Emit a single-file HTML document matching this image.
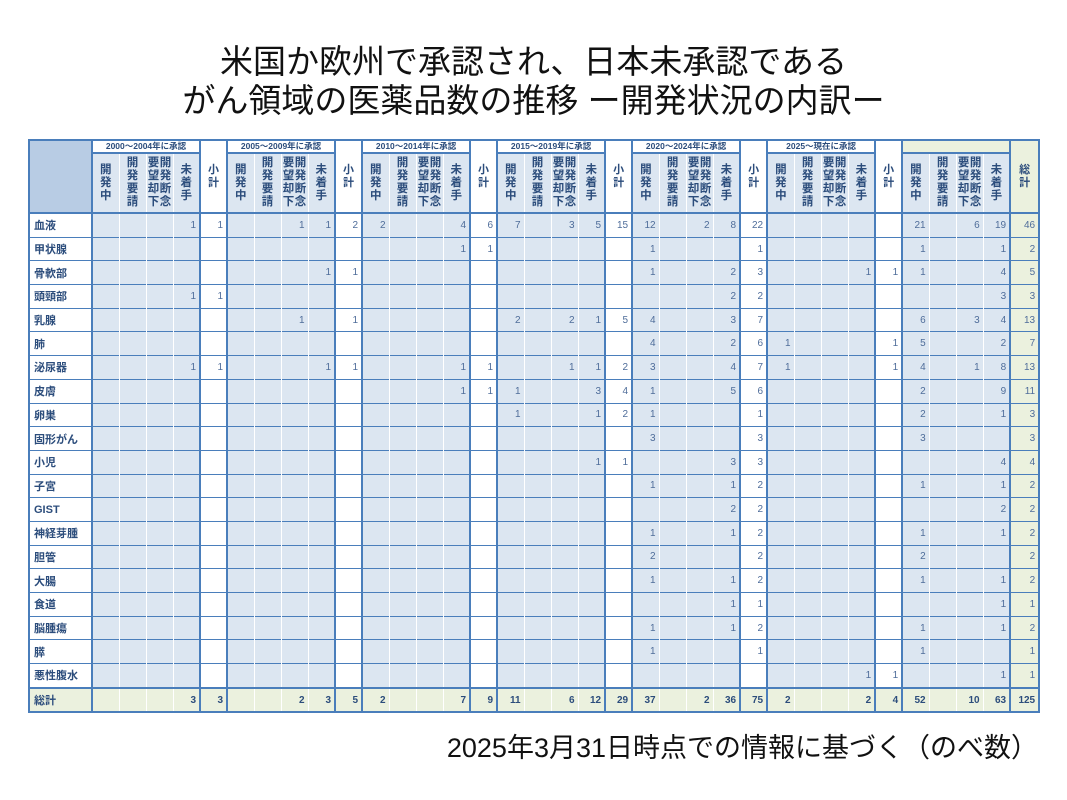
<!DOCTYPE html>
<html><head><meta charset="utf-8">
<style>
body{margin:0;width:1067px;height:800px;background:#fff;position:relative;overflow:hidden;font-family:"Liberation Sans","Noto Sans CJK JP",sans-serif;}
.title{position:absolute;left:0;width:1067px;text-align:center;font-size:33px;color:#111;line-height:38px;font-family:"Liberation Sans","Noto Sans CJK JP",sans-serif;}
.foot{position:absolute;right:29px;top:726px;font-size:27px;color:#111;font-family:"Liberation Sans","Noto Sans CJK JP",sans-serif;}
table{position:absolute;left:28px;top:139px;width:1010px;border-collapse:collapse;table-layout:fixed;border:2px solid #4a7ebb;}
td,th{padding:0;overflow:hidden;white-space:nowrap;}
thead th{font-weight:bold;color:#2c4d7c;}
.g1{height:11px;font-size:8.5px;background:#fff;border-left:2px solid #4a7ebb;border-bottom:2px solid #4a7ebb;line-height:11px;}
.tl{background:#b8cce4;border-right:2px solid #4a7ebb;border-bottom:2px solid #4a7ebb;}
.sub{background:#fff;border-left:2px solid #4a7ebb;border-bottom:2px solid #4a7ebb;font-size:11px;line-height:13px;}
.tg{background:#ebf1de;border-left:2px solid #4a7ebb;border-bottom:2px solid #4a7ebb;}
.gg{background:#ebf1de;border-left:2px solid #4a7ebb;border-bottom:2px solid #4a7ebb;font-size:11px;line-height:13px;}
.h{height:58px;background:#dce6f1;border-left:1.5px solid #fff;border-bottom:2px solid #4a7ebb;font-size:11.5px;line-height:13px;vertical-align:middle;}
.h.f{border-left:2px solid #4a7ebb;}
.h span{display:inline-block;vertical-align:top;width:12px;}
tbody td{height:22.7px;border-top:1.5px solid #4a7ebb;background:#dce6f1;border-left:1.5px solid #fff;text-align:right;padding-right:3px;font-size:10px;color:#4f6d9a;}
tbody td:nth-child(5n+2){border-left:2px solid #4a7ebb;}
tbody td:nth-child(5n+1){border-left:2px solid #4a7ebb;background:#fff;}
tbody td:nth-child(36){background:#ebf1de;}
tbody th{border-top:1.5px solid #4a7ebb;text-align:left;padding-left:4px;font-size:11px;color:#2c4d7c;font-weight:bold;background:#fff;}
tr.tot td,tr.tot th{background:#ebf1de !important;font-weight:bold;border-top:2px solid #4a7ebb;color:#2c4d7c;}
</style></head><body>
<div class="title" style="top:43px">米国か欧州で承認され、日本未承認である</div>
<div class="title" style="top:82px">がん領域の医薬品数の推移 ー開発状況の内訳ー</div>
<table>
<colgroup><col style="width:63px">
<col style="width:27px"><col style="width:27px"><col style="width:27px"><col style="width:27px"><col style="width:27px">
<col style="width:27px"><col style="width:27px"><col style="width:27px"><col style="width:27px"><col style="width:27px">
<col style="width:27px"><col style="width:27px"><col style="width:27px"><col style="width:27px"><col style="width:27px">
<col style="width:27px"><col style="width:27px"><col style="width:27px"><col style="width:27px"><col style="width:27px">
<col style="width:27px"><col style="width:27px"><col style="width:27px"><col style="width:27px"><col style="width:27px">
<col style="width:27px"><col style="width:27px"><col style="width:27px"><col style="width:27px"><col style="width:27px">
<col style="width:27px"><col style="width:27px"><col style="width:27px"><col style="width:27px"><col style="width:29px"></colgroup>
<thead>
<tr><th class="tl" rowspan="2"></th>
<th class="g1" colspan="4">2000～2004年に承認</th><th class="sub" rowspan="2">小<br>計</th>
<th class="g1" colspan="4">2005～2009年に承認</th><th class="sub" rowspan="2">小<br>計</th>
<th class="g1" colspan="4">2010～2014年に承認</th><th class="sub" rowspan="2">小<br>計</th>
<th class="g1" colspan="4">2015～2019年に承認</th><th class="sub" rowspan="2">小<br>計</th>
<th class="g1" colspan="4">2020～2024年に承認</th><th class="sub" rowspan="2">小<br>計</th>
<th class="g1" colspan="4">2025～現在に承認</th><th class="sub" rowspan="2">小<br>計</th>
<th class="tg" colspan="4"></th><th class="gg" rowspan="2">総<br>計</th></tr>
<tr>
<th class="h f">開<br>発<br>中</th><th class="h">開<br>発<br>要<br>請</th><th class="h"><span>要<br>望<br>却<br>下</span><span>開<br>発<br>断<br>念</span></th><th class="h">未<br>着<br>手</th>
<th class="h f">開<br>発<br>中</th><th class="h">開<br>発<br>要<br>請</th><th class="h"><span>要<br>望<br>却<br>下</span><span>開<br>発<br>断<br>念</span></th><th class="h">未<br>着<br>手</th>
<th class="h f">開<br>発<br>中</th><th class="h">開<br>発<br>要<br>請</th><th class="h"><span>要<br>望<br>却<br>下</span><span>開<br>発<br>断<br>念</span></th><th class="h">未<br>着<br>手</th>
<th class="h f">開<br>発<br>中</th><th class="h">開<br>発<br>要<br>請</th><th class="h"><span>要<br>望<br>却<br>下</span><span>開<br>発<br>断<br>念</span></th><th class="h">未<br>着<br>手</th>
<th class="h f">開<br>発<br>中</th><th class="h">開<br>発<br>要<br>請</th><th class="h"><span>要<br>望<br>却<br>下</span><span>開<br>発<br>断<br>念</span></th><th class="h">未<br>着<br>手</th>
<th class="h f">開<br>発<br>中</th><th class="h">開<br>発<br>要<br>請</th><th class="h"><span>要<br>望<br>却<br>下</span><span>開<br>発<br>断<br>念</span></th><th class="h">未<br>着<br>手</th>
<th class="h f">開<br>発<br>中</th><th class="h">開<br>発<br>要<br>請</th><th class="h"><span>要<br>望<br>却<br>下</span><span>開<br>発<br>断<br>念</span></th><th class="h">未<br>着<br>手</th>
</tr></thead>
<tbody>
<tr><th>血液</th><td></td><td></td><td></td><td>1</td><td>1</td><td></td><td></td><td>1</td><td>1</td><td>2</td><td>2</td><td></td><td></td><td>4</td><td>6</td><td>7</td><td></td><td>3</td><td>5</td><td>15</td><td>12</td><td></td><td>2</td><td>8</td><td>22</td><td></td><td></td><td></td><td></td><td></td><td>21</td><td></td><td>6</td><td>19</td><td>46</td></tr>
<tr><th>甲状腺</th><td></td><td></td><td></td><td></td><td></td><td></td><td></td><td></td><td></td><td></td><td></td><td></td><td></td><td>1</td><td>1</td><td></td><td></td><td></td><td></td><td></td><td>1</td><td></td><td></td><td></td><td>1</td><td></td><td></td><td></td><td></td><td></td><td>1</td><td></td><td></td><td>1</td><td>2</td></tr>
<tr><th>骨軟部</th><td></td><td></td><td></td><td></td><td></td><td></td><td></td><td></td><td>1</td><td>1</td><td></td><td></td><td></td><td></td><td></td><td></td><td></td><td></td><td></td><td></td><td>1</td><td></td><td></td><td>2</td><td>3</td><td></td><td></td><td></td><td>1</td><td>1</td><td>1</td><td></td><td></td><td>4</td><td>5</td></tr>
<tr><th>頭頸部</th><td></td><td></td><td></td><td>1</td><td>1</td><td></td><td></td><td></td><td></td><td></td><td></td><td></td><td></td><td></td><td></td><td></td><td></td><td></td><td></td><td></td><td></td><td></td><td></td><td>2</td><td>2</td><td></td><td></td><td></td><td></td><td></td><td></td><td></td><td></td><td>3</td><td>3</td></tr>
<tr><th>乳腺</th><td></td><td></td><td></td><td></td><td></td><td></td><td></td><td>1</td><td></td><td>1</td><td></td><td></td><td></td><td></td><td></td><td>2</td><td></td><td>2</td><td>1</td><td>5</td><td>4</td><td></td><td></td><td>3</td><td>7</td><td></td><td></td><td></td><td></td><td></td><td>6</td><td></td><td>3</td><td>4</td><td>13</td></tr>
<tr><th>肺</th><td></td><td></td><td></td><td></td><td></td><td></td><td></td><td></td><td></td><td></td><td></td><td></td><td></td><td></td><td></td><td></td><td></td><td></td><td></td><td></td><td>4</td><td></td><td></td><td>2</td><td>6</td><td>1</td><td></td><td></td><td></td><td>1</td><td>5</td><td></td><td></td><td>2</td><td>7</td></tr>
<tr><th>泌尿器</th><td></td><td></td><td></td><td>1</td><td>1</td><td></td><td></td><td></td><td>1</td><td>1</td><td></td><td></td><td></td><td>1</td><td>1</td><td></td><td></td><td>1</td><td>1</td><td>2</td><td>3</td><td></td><td></td><td>4</td><td>7</td><td>1</td><td></td><td></td><td></td><td>1</td><td>4</td><td></td><td>1</td><td>8</td><td>13</td></tr>
<tr><th>皮膚</th><td></td><td></td><td></td><td></td><td></td><td></td><td></td><td></td><td></td><td></td><td></td><td></td><td></td><td>1</td><td>1</td><td>1</td><td></td><td></td><td>3</td><td>4</td><td>1</td><td></td><td></td><td>5</td><td>6</td><td></td><td></td><td></td><td></td><td></td><td>2</td><td></td><td></td><td>9</td><td>11</td></tr>
<tr><th>卵巣</th><td></td><td></td><td></td><td></td><td></td><td></td><td></td><td></td><td></td><td></td><td></td><td></td><td></td><td></td><td></td><td>1</td><td></td><td></td><td>1</td><td>2</td><td>1</td><td></td><td></td><td></td><td>1</td><td></td><td></td><td></td><td></td><td></td><td>2</td><td></td><td></td><td>1</td><td>3</td></tr>
<tr><th>固形がん</th><td></td><td></td><td></td><td></td><td></td><td></td><td></td><td></td><td></td><td></td><td></td><td></td><td></td><td></td><td></td><td></td><td></td><td></td><td></td><td></td><td>3</td><td></td><td></td><td></td><td>3</td><td></td><td></td><td></td><td></td><td></td><td>3</td><td></td><td></td><td></td><td>3</td></tr>
<tr><th>小児</th><td></td><td></td><td></td><td></td><td></td><td></td><td></td><td></td><td></td><td></td><td></td><td></td><td></td><td></td><td></td><td></td><td></td><td></td><td>1</td><td>1</td><td></td><td></td><td></td><td>3</td><td>3</td><td></td><td></td><td></td><td></td><td></td><td></td><td></td><td></td><td>4</td><td>4</td></tr>
<tr><th>子宮</th><td></td><td></td><td></td><td></td><td></td><td></td><td></td><td></td><td></td><td></td><td></td><td></td><td></td><td></td><td></td><td></td><td></td><td></td><td></td><td></td><td>1</td><td></td><td></td><td>1</td><td>2</td><td></td><td></td><td></td><td></td><td></td><td>1</td><td></td><td></td><td>1</td><td>2</td></tr>
<tr><th>GIST</th><td></td><td></td><td></td><td></td><td></td><td></td><td></td><td></td><td></td><td></td><td></td><td></td><td></td><td></td><td></td><td></td><td></td><td></td><td></td><td></td><td></td><td></td><td></td><td>2</td><td>2</td><td></td><td></td><td></td><td></td><td></td><td></td><td></td><td></td><td>2</td><td>2</td></tr>
<tr><th>神経芽腫</th><td></td><td></td><td></td><td></td><td></td><td></td><td></td><td></td><td></td><td></td><td></td><td></td><td></td><td></td><td></td><td></td><td></td><td></td><td></td><td></td><td>1</td><td></td><td></td><td>1</td><td>2</td><td></td><td></td><td></td><td></td><td></td><td>1</td><td></td><td></td><td>1</td><td>2</td></tr>
<tr><th>胆管</th><td></td><td></td><td></td><td></td><td></td><td></td><td></td><td></td><td></td><td></td><td></td><td></td><td></td><td></td><td></td><td></td><td></td><td></td><td></td><td></td><td>2</td><td></td><td></td><td></td><td>2</td><td></td><td></td><td></td><td></td><td></td><td>2</td><td></td><td></td><td></td><td>2</td></tr>
<tr><th>大腸</th><td></td><td></td><td></td><td></td><td></td><td></td><td></td><td></td><td></td><td></td><td></td><td></td><td></td><td></td><td></td><td></td><td></td><td></td><td></td><td></td><td>1</td><td></td><td></td><td>1</td><td>2</td><td></td><td></td><td></td><td></td><td></td><td>1</td><td></td><td></td><td>1</td><td>2</td></tr>
<tr><th>食道</th><td></td><td></td><td></td><td></td><td></td><td></td><td></td><td></td><td></td><td></td><td></td><td></td><td></td><td></td><td></td><td></td><td></td><td></td><td></td><td></td><td></td><td></td><td></td><td>1</td><td>1</td><td></td><td></td><td></td><td></td><td></td><td></td><td></td><td></td><td>1</td><td>1</td></tr>
<tr><th>脳腫瘍</th><td></td><td></td><td></td><td></td><td></td><td></td><td></td><td></td><td></td><td></td><td></td><td></td><td></td><td></td><td></td><td></td><td></td><td></td><td></td><td></td><td>1</td><td></td><td></td><td>1</td><td>2</td><td></td><td></td><td></td><td></td><td></td><td>1</td><td></td><td></td><td>1</td><td>2</td></tr>
<tr><th>膵</th><td></td><td></td><td></td><td></td><td></td><td></td><td></td><td></td><td></td><td></td><td></td><td></td><td></td><td></td><td></td><td></td><td></td><td></td><td></td><td></td><td>1</td><td></td><td></td><td></td><td>1</td><td></td><td></td><td></td><td></td><td></td><td>1</td><td></td><td></td><td></td><td>1</td></tr>
<tr><th>悪性腹水</th><td></td><td></td><td></td><td></td><td></td><td></td><td></td><td></td><td></td><td></td><td></td><td></td><td></td><td></td><td></td><td></td><td></td><td></td><td></td><td></td><td></td><td></td><td></td><td></td><td></td><td></td><td></td><td></td><td>1</td><td>1</td><td></td><td></td><td></td><td>1</td><td>1</td></tr>
<tr class="tot"><th>総計</th><td></td><td></td><td></td><td>3</td><td>3</td><td></td><td></td><td>2</td><td>3</td><td>5</td><td>2</td><td></td><td></td><td>7</td><td>9</td><td>11</td><td></td><td>6</td><td>12</td><td>29</td><td>37</td><td></td><td>2</td><td>36</td><td>75</td><td>2</td><td></td><td></td><td>2</td><td>4</td><td>52</td><td></td><td>10</td><td>63</td><td>125</td></tr>
</tbody></table>
<div class="foot">2025年3月31日時点での情報に基づく（のべ数）</div>
</body></html>
